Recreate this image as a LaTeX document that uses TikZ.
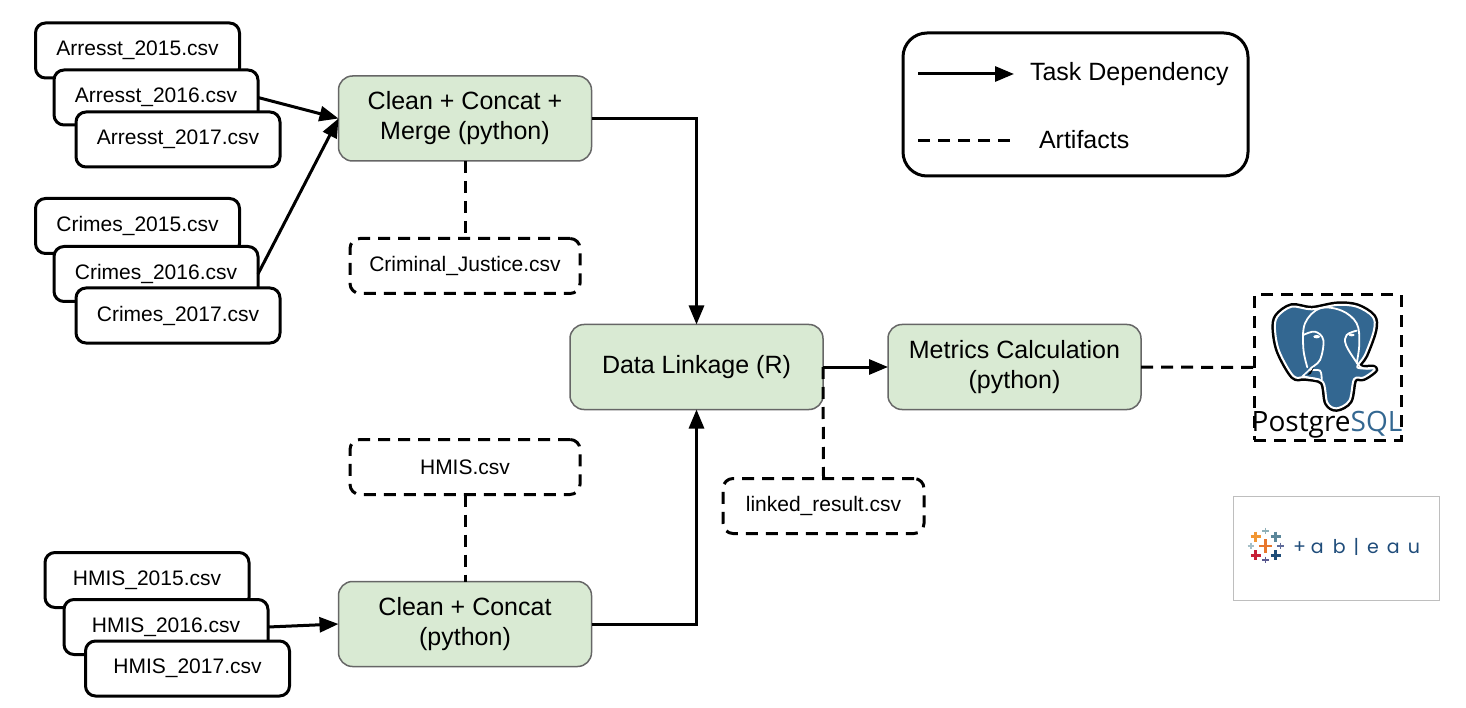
\documentclass[tikz,border=0pt]{standalone}
\usepackage{fontspec}
\setmainfont{Liberation Sans}
\newfontfamily\pgfont{Open Sans}
\newfontfamily\tabfont{Poppins}
\usetikzlibrary{arrows.meta}
\definecolor{greenfill}{HTML}{D9EAD3}
\definecolor{greenline}{HTML}{666666}
\definecolor{pgblue}{HTML}{336791}
\definecolor{tabnavy}{HTML}{1F4C7A}
\tikzset{
  filebox/.style={draw=black,fill=white,line width=3pt,rounded corners=10pt,minimum width=204pt,minimum height=55pt,inner sep=0pt,outer sep=0pt,font=\fontsize{21}{25}\selectfont},
  artbox/.style={draw=black,fill=white,line width=3pt,dash pattern=on 12pt off 8pt,rounded corners=10pt,minimum height=55pt,inner sep=0pt,outer sep=0pt,font=\fontsize{21}{25}\selectfont},
  taskbox/.style={draw=greenline,fill=greenfill,line width=1.5pt,rounded corners=14pt,minimum width=253pt,minimum height=85pt,inner sep=0pt,outer sep=0pt,align=center,font=\fontsize{25}{30}\selectfont},
  dep/.style={draw=black,line width=3pt,-{Triangle[length=19pt,width=15pt]},shorten >=0pt},
  art/.style={draw=black,line width=3pt,dash pattern=on 12pt off 8pt},
  legendtext/.style={inner sep=0pt,outer sep=0pt,font=\fontsize{25}{30}\selectfont},
  tabplus/.style={line width=2.4pt}
}
\newcommand{\tabcross}[4]{\draw[tabplus,#4] (#1-#3,#2) -- (#1+#3,#2) (#1,#2-#3) -- (#1,#2+#3);}
\begin{document}
\begin{tikzpicture}[x=1pt,y=-1pt]
\useasboundingbox (0,0) rectangle (1466,708);
% Arrest files
\node[filebox] (a15) at (137.5,50.5) {Arresst\_2015.csv};
\node[filebox] (a16) at (156,97.5) {Arresst\_2016.csv};
\node[filebox] (a17) at (178,139.5) {Arresst\_2017.csv};
% Crimes files
\node[filebox] (c15) at (137.5,226) {Crimes\_2015.csv};
\node[filebox] (c16) at (156,274) {Crimes\_2016.csv};
\node[filebox] (c17) at (178,315.5) {Crimes\_2017.csv};
% HMIS files
\node[filebox] (h15) at (147,580) {HMIS\_2015.csv};
\node[filebox] (h16) at (166,627) {HMIS\_2016.csv};
\node[filebox] (h17) at (187.5,668.5) {HMIS\_2017.csv};
% Tasks
\node[taskbox] (clean1) at (465,118.5) {Clean + Concat +\\Merge (python)};
\node[taskbox] (data) at (696.5,367) {Data Linkage (R)};
\node[taskbox] (metrics) at (1014.5,367) {Metrics Calculation\\(python)};
\node[taskbox] (clean2) at (465,624) {Clean + Concat\\(python)};
% Artifacts
\node[artbox,minimum width=230pt] (crim) at (465,266) {Criminal\_Justice.csv};
\node[artbox,minimum width=230pt] (hmis) at (465,467) {HMIS.csv};
\node[artbox,minimum width=201pt] (linked) at (823.5,506) {linked\_result.csv};
% Legend
\node[draw=black,line width=3pt,rounded corners=24pt,minimum width=345pt,minimum height=143pt,inner sep=0pt,outer sep=0pt] (legend) at (1075.5,104.5) {};
\coordinate (depa) at (918,74);
\coordinate (depb) at (1014,74);
\coordinate (arta) at (918,141);
\coordinate (artb) at (1014,141);
\draw[dep] (depa) -- (depb);
\draw[art] (arta) -- (artb);
\node[legendtext,anchor=west] (ltask) at (1030,74) {Task Dependency};
\node[legendtext,anchor=west] (lart) at (1039,140) {Artifacts};
% PostgreSQL box
\node[draw=black,line width=3pt,dash pattern=on 12pt off 8pt,minimum width=147pt,minimum height=145pt,inner sep=0pt,outer sep=0pt] (pg) at (1327.5,367.5) {};
\begin{scope}[xshift=1220pt,yshift=-280pt,x=0.3333pt,y=-0.3333pt]
  \def\elephant{plot[smooth cycle,tension=0.55] coordinates {(172,110) (215,80) (275,88) (350,75) (410,80) (458,110) (462,150) (435,225) (412,262) (462,265) (458,275) (430,293) (402,298) (388,362) (350,385) (322,368) (308,305) (255,292) (220,288) (178,215) (165,150)}}
  \draw[black,line width=7pt,line join=round] \elephant;
  \draw[white,line width=2pt,fill=pgblue,line join=round] \elephant;
  \draw[white,line width=1.8pt,line cap=round] plot[smooth,tension=0.6] coordinates {(262,262) (250,205) (255,130) (300,85) (365,92) (410,130) (418,190) (410,250)};
  \draw[white,line width=1.8pt,line cap=round] plot[smooth,tension=0.6] coordinates {(250,165) (285,155) (310,180) (300,240) (270,268) (300,272) (305,300)};
  \draw[white,line width=1.8pt,line cap=round] plot[smooth,tension=0.6] coordinates {(410,152) (380,165) (378,195) (412,250) (430,265) (462,265)};
  \draw[white,line width=1.5pt,line cap=round] (270,268) -- (248,288) -- (290,298);
  \fill[black] (262,285) -- (282,262) -- (272,282) -- cycle;
  \fill[white] (290,170) ellipse (10 and 5);
  \fill[white] (395,165) ellipse (9 and 4);
\end{scope}
\node[inner sep=0pt,outer sep=0pt,anchor=base,font=\pgfont\fontsize{28}{30}\selectfont] (pgname) at (1327,431) {Postgre\textcolor{pgblue}{SQL}};
% Tableau logo
\node[draw={rgb,255:red,190;green,190;blue,190},line width=1pt,minimum width=206pt,minimum height=104pt,inner sep=0pt,outer sep=0pt] (tab) at (1336,548) {};
\begin{scope}[xshift=1225pt,yshift=-490pt,x=0.3333pt,y=-0.3333pt]
  \tabcross{122}{168}{20}{color={rgb,255:red,232;green,118;blue,44}}
  \tabcross{92}{140}{15}{color={rgb,255:red,242;green,150;blue,50}}
  \tabcross{122}{123}{10}{color={rgb,255:red,143;green,176;blue,184},line width=1.6pt}
  \tabcross{152}{140}{15}{color={rgb,255:red,91;green,135;blue,155}}
  \tabcross{78}{168}{10}{color={rgb,255:red,165;green,191;blue,199},line width=1.6pt}
  \tabcross{167}{168}{10}{color={rgb,255:red,95;green,106;blue,154},line width=1.6pt}
  \tabcross{92}{196}{15}{color={rgb,255:red,199;green,32;blue,55}}
  \tabcross{122}{210}{10}{color={rgb,255:red,89;green,89;blue,143},line width=1.6pt}
  \tabcross{152}{196}{15}{color={rgb,255:red,31;green,78;blue,121}}
\end{scope}
\node[inner sep=0pt,outer sep=0pt,anchor=base west,text=tabnavy,font=\tabfont\fontsize{19}{22}\selectfont] (tabname) at (1293,553) {+\hspace{5pt}a\hspace{9pt}b\hspace{8pt}|\hspace{8pt}e\hspace{8pt}a\hspace{8pt}u};
% Connectors
\draw[dep] (a16.east) -- (clean1.west);
\draw[dep] (c16.east) -- (clean1.west);
\draw[dep] (h16.east) -- (clean2.west);
\draw[dep] (clean1.east) -| (data.north);
\draw[dep] (clean2.east) -| (data.south);
\draw[dep] (data.east) -- (metrics.west);
\draw[art] (clean1.south) -- (crim.north);
\draw[art] (hmis.south) -- (clean2.north);
\draw[art] (data.east) -- (linked.north);
\draw[art] (metrics.east) -- (pg.west);
\end{tikzpicture}
\end{document}
